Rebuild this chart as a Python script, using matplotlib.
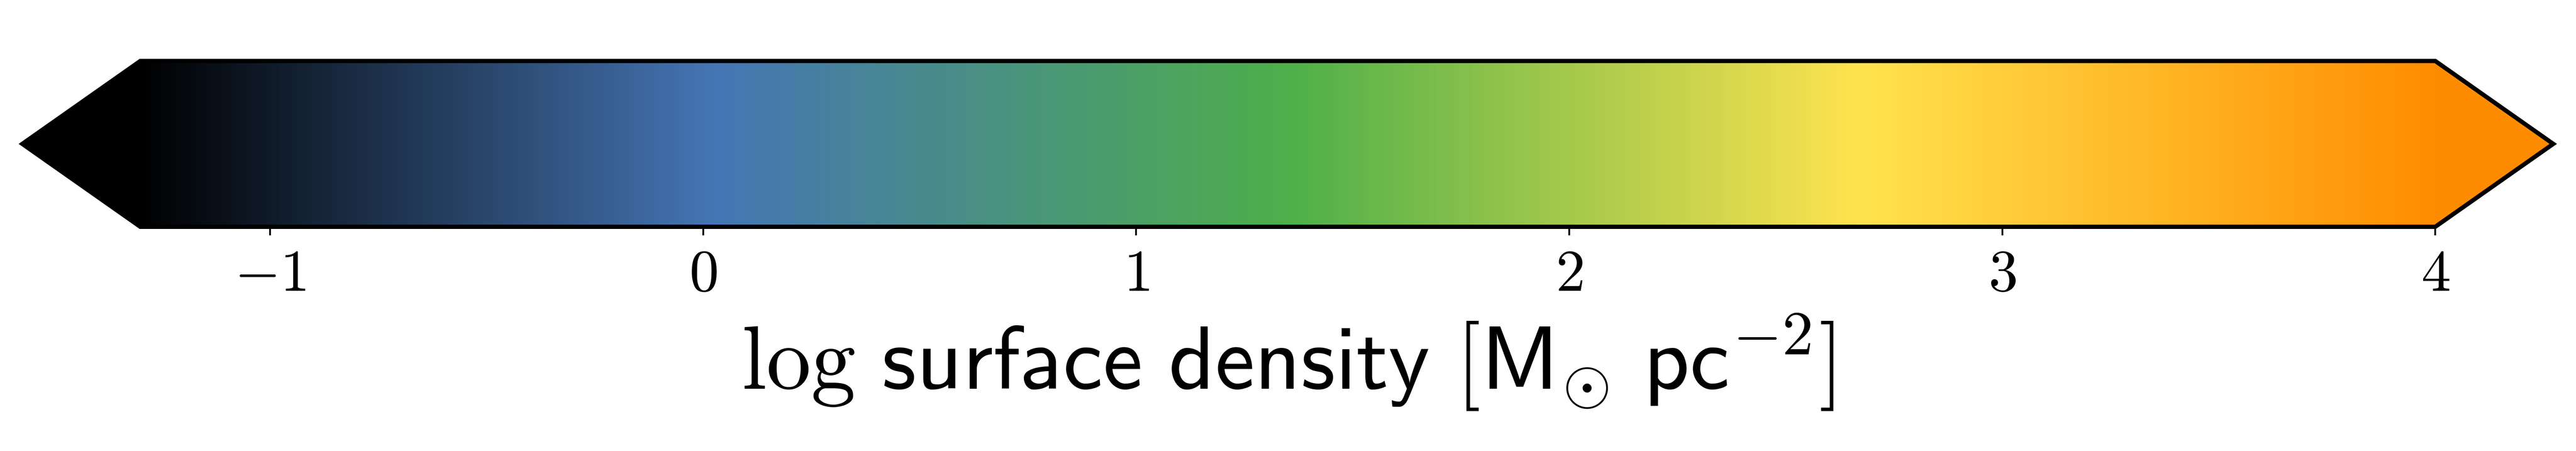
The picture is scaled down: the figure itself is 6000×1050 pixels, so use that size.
import matplotlib
matplotlib.use("Agg")
import matplotlib.pyplot as plt
from matplotlib.colors import LinearSegmentedColormap, Normalize
from matplotlib.cm import ScalarMappable

# colour anchors of the map (evenly spaced from vmin to vmax)
anchor_colors = ["#000000", "#4575b4", "#4daf4a", "#ffe34d", "#ff8c00"]
vmin, vmax = -1.3, 4.0
tick_values = [-1, 0, 1, 2, 3, 4]
tick_labels = [r"$-1$", r"$0$", r"$1$", r"$2$", r"$3$", r"$4$"]
label = r"$\log\,\mathsf{surface\ density}\ [\mathsf{M}_{\odot}\ \mathsf{pc}^{-2}]$"

plt.rcParams["mathtext.fontset"] = "cm"

cmap = LinearSegmentedColormap.from_list("surf", anchor_colors, N=512)
norm = Normalize(vmin=vmin, vmax=vmax)

fig = plt.figure(figsize=(20, 3.5), dpi=300)
# axes spans tip to tip of the triangular extensions
cax = fig.add_axes([52 / 6000, 1 - 528 / 1050, 5895 / 6000, 386 / 1050])

sm = ScalarMappable(norm=norm, cmap=cmap)
cb = fig.colorbar(sm, cax=cax, orientation="horizontal",
                  extend="both", extendfrac=0.0514)
cb.outline.set_linewidth(2.4)
cb.set_ticks(tick_values)
cb.set_ticklabels(tick_labels)
cax.tick_params(axis="x", length=4.8, width=1.0, pad=6, labelsize=33)
cb.set_label(label, fontsize=50, labelpad=5)

fig.savefig("out.png", dpi=300)
